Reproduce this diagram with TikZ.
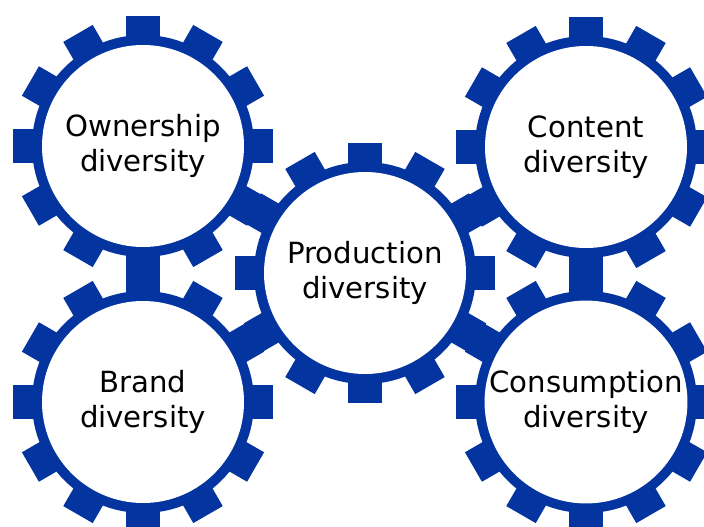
\documentclass[tikz,border=0pt]{standalone}
\usepackage{fontspec}
\setmainfont{DejaVu Sans}
\definecolor{gearblue}{HTML}{0334A0}

\begin{document}
\begin{tikzpicture}[x=1pt,y=-1pt,
    hub/.style={circle,fill=white,minimum size=202pt,inner sep=0pt,align=center,
      font=\fontsize{29.2}{35}\selectfont}]
  \useasboundingbox (0,0) rectangle (704,527);
  \clip (0,0) rectangle (704,527);
  % gear centres
  \coordinate (ownc) at (143,146);
  \coordinate (conc) at (586,147);
  \coordinate (brac) at (143,402);
  \coordinate (cnsc) at (586,402);
  \coordinate (proc) at (365,273);
  % rings and teeth
  \foreach \g in {ownc,conc,brac,cnsc,proc} {
    \fill[gearblue] (\g) circle (111);
    \foreach \a in {0,30,...,330}
      \fill[gearblue,shift={(\g)},rotate=\a] (98,-17) rectangle (130,17);
  }
  % white hubs with labels
  \node[hub] (own) at (ownc) {Ownership\\diversity};
  \node[hub] (con) at (conc) {Content\\diversity};
  \node[hub] (bra) at (brac) {Brand\\diversity};
  \node[hub] (cns) at (cnsc) {Consumption\\diversity};
  \node[hub] (pro) at (proc) {Production\\diversity};
\end{tikzpicture}
\end{document}
